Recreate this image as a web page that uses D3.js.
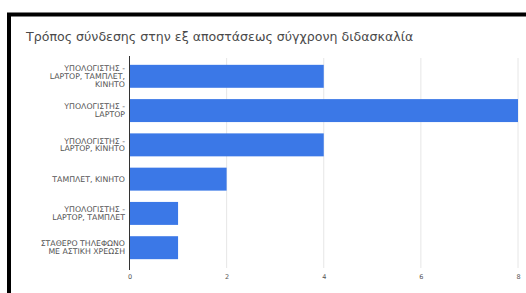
<!DOCTYPE html>
<html><head><meta charset="utf-8">
<script src="https://cdn.jsdelivr.net/npm/d3@7"></script>
<style>html,body{margin:0;padding:0;background:#fff;overflow:hidden}</style>
</head><body>
<svg id="c" width="526" height="293"></svg>
<script>
const title = "Τρόπος σύνδεσης στην εξ αποστάσεως σύγχρονη διδασκαλία";
const categories = [
  ["ΥΠΟΛΟΓΙΣΤΗΣ -", "LAPTOP, ΤΑΜΠΛΕΤ,", "ΚΙΝΗΤΟ"],
  ["ΥΠΟΛΟΓΙΣΤΗΣ -", "LAPTOP"],
  ["ΥΠΟΛΟΓΙΣΤΗΣ -", "LAPTOP, ΚΙΝΗΤΟ"],
  ["ΤΑΜΠΛΕΤ, ΚΙΝΗΤΟ"],
  ["ΥΠΟΛΟΓΙΣΤΗΣ -", "LAPTOP, ΤΑΜΠΛΕΤ"],
  ["ΣΤΑΘΕΡΟ ΤΗΛΕΦΩΝΟ", "ΜΕ ΑΣΤΙΚΗ ΧΡΕΩΣΗ"]
];
const values = [4, 8, 4, 2, 1, 1];
const ticks = [0, 2, 4, 6, 8];

const svg = d3.select("#c");
svg.append("rect").attr("x",0).attr("y",0).attr("width",526).attr("height",293).attr("fill","#fff");
// frame
svg.append("rect").attr("x",9).attr("y",14.5).attr("width",540).attr("height",300)
  .attr("fill","#fff").attr("stroke","#000").attr("stroke-width",4);

svg.append("text").attr("x",26).attr("y",40.5).text(title)
  .attr("font-family","'DejaVu Sans', Verdana, sans-serif").attr("font-size",12.6).attr("fill","#4a4a4a");

const x = d3.scaleLinear().domain([0,8]).range([129.5,518]);
const keys = categories.map((c,i)=>i);
const y = d3.scaleBand().domain(keys).range([59,265]).paddingInner(0.33).paddingOuter(0.17);

// grid
svg.append("g").selectAll("line").data(ticks.slice(1)).join("line")
  .attr("x1",d=>x(d)).attr("x2",d=>x(d)).attr("y1",58).attr("y2",268)
  .attr("stroke","#e6e6e6").attr("stroke-width",1);

// bars
svg.append("g").selectAll("rect").data(values).join("rect")
  .attr("x",x(0)).attr("y",(d,i)=>y(i)).attr("height",y.bandwidth())
  .attr("width",d=>x(d)-x(0)).attr("fill","#3b78e7");

// baseline
svg.append("line").attr("x1",x(0)).attr("x2",x(0)).attr("y1",56).attr("y2",270)
  .attr("stroke","#333").attr("stroke-width",1);

// x tick labels
const xa = d3.axisBottom(x).tickValues(ticks).tickSize(0).tickFormat(d3.format("d"));
const gx = svg.append("g").attr("transform","translate(0,271)").call(xa);
gx.select(".domain").remove();
gx.selectAll("text").attr("font-family","'DejaVu Sans', sans-serif").attr("font-size",6.5).attr("fill","#555");

// y labels
const lh = 7.8;
const gy = svg.append("g");
categories.forEach((lines,i)=>{
  const cy = y(i) + y.bandwidth()/2;
  const t = gy.append("text").attr("text-anchor","end")
    .attr("font-family","'DejaVu Sans', Verdana, sans-serif").attr("font-size",7.8).attr("fill","#555");
  const y0 = cy - (lines.length-1)*lh/2 + 2.7;
  lines.forEach((l,j)=>{
    t.append("tspan").attr("x",125).attr("y",y0 + j*lh).text(l);
  });
});
</script>
</body></html>
